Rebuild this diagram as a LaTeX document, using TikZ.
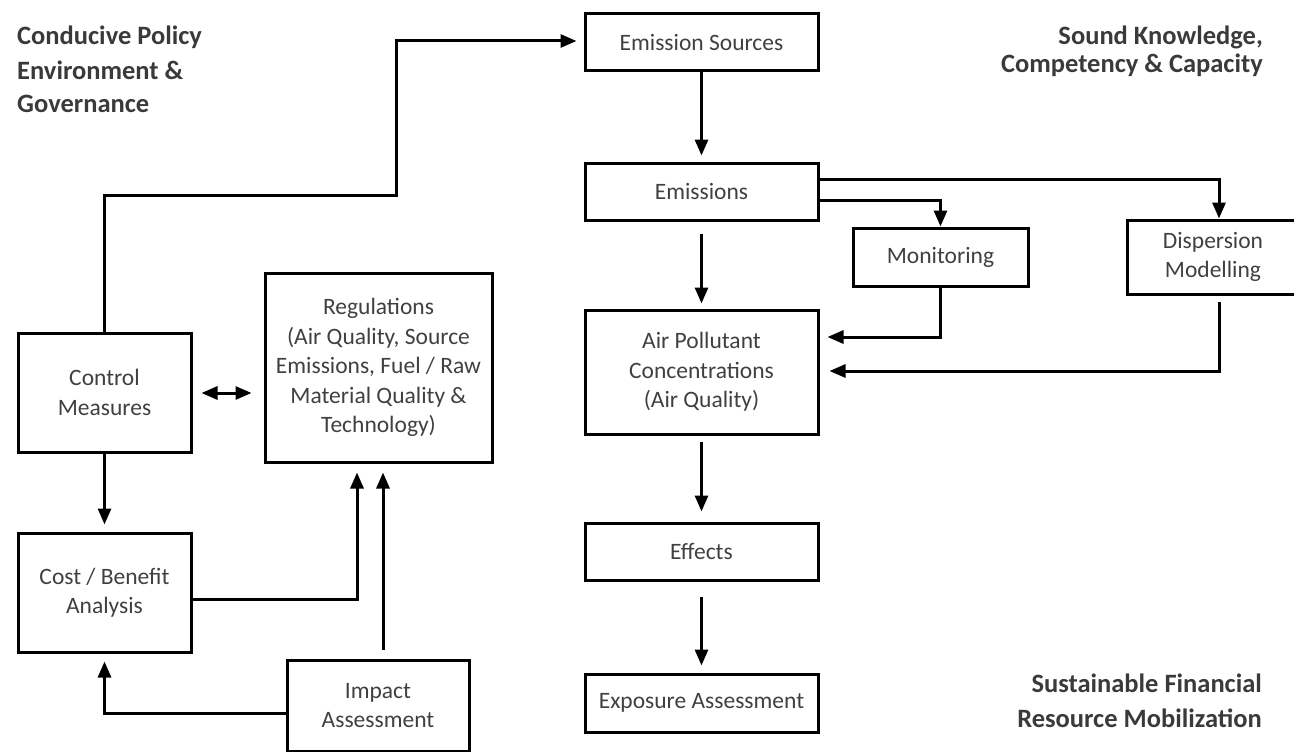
\documentclass[tikz,border=0pt]{standalone}
\usepackage{fontspec}
\setmainfont{Carlito}
\usetikzlibrary{arrows.meta,calc}
\definecolor{txt}{HTML}{404040}
\definecolor{headtxt}{HTML}{3A3A3A}
\begin{document}
\begin{tikzpicture}[x=1pt,y=-1pt,
  box/.style={draw=black,line width=3pt,text=txt,font=\fontsize{23.5}{29.5}\selectfont,align=center,inner sep=0pt},
  arr/.style={draw=black,line width=3pt,-{Triangle[length=16pt,width=13pt]}},
  dblarr/.style={draw=black,line width=3pt,{Triangle[length=16pt,width=13pt]}-{Triangle[length=16pt,width=13pt]}},
  head/.style={text=headtxt,font=\fontsize{26.5}{33}\selectfont\bfseries,inner sep=0pt}]
\clip (0,0) rectangle (1294,752);
\useasboundingbox (0,0) rectangle (1294,752);

% right column
\node[box,minimum width=233pt,minimum height=57pt] (src) at (701.5,42.5) {Emission Sources};
\node[box,minimum width=233pt,minimum height=57pt] (emis) at (701.5,191.5) {Emissions};
\node[box,minimum width=175pt,minimum height=58pt] (mon) at (940.5,257) {Monitoring};
\node[box,minimum width=172pt,minimum height=74pt] (disp) at (1213,257) {Dispersion\\Modelling};
\node[box,minimum width=233pt,minimum height=124pt] (air) at (701.5,372) {Air Pollutant\\Concentrations\\(Air Quality)};
\node[box,minimum width=233pt,minimum height=57pt] (eff) at (701.5,551.5) {Effects};
\node[box,minimum width=233pt,minimum height=58pt] (expo) at (701.5,703) {Exposure Assessment};

% left column
\node[box,minimum width=173pt,minimum height=119pt] (ctrl) at (104.5,392.5) {Control\\Measures};
\node[box,minimum width=227pt,minimum height=189pt] (reg) at (378.5,367.5) {Regulations\\(Air Quality, Source\\Emissions, Fuel / Raw\\Material Quality \&\\Technology)};
\node[box,minimum width=173pt,minimum height=119pt] (cost) at (104.5,592.5) {Cost / Benefit\\Analysis};
\node[box,minimum width=182pt,minimum height=91pt] (imp) at (378,705.5) {Impact\\Assessment};

% headings
\node[head,anchor=base west] (p1) at (17,45) {Conducive Policy};
\node[head,anchor=base west] (p2) at (17,80) {Environment \&};
\node[head,anchor=base west] (p3) at (17,113) {Governance};
\node[head,anchor=base east] (k1) at (1263,45) {Sound Knowledge,};
\node[head,anchor=base east] (k2) at (1263,73) {Competency \& Capacity};
\node[head,anchor=base east] (f1) at (1262,692) {Sustainable Financial};
\node[head,anchor=base east] (f2) at (1262,727) {Resource Mobilization};

% connectors
\draw[arr,shorten >=6pt] (src) -- (emis);
\draw[arr,shorten <=12pt,shorten >=5pt] (emis) -- (air);
\draw[arr,shorten <=6pt,shorten >=10pt] (air) -- (eff);
\draw[arr,shorten <=15pt,shorten >=7pt] (eff) -- (expo);
\draw[arr] ($(emis.east)+(0,-12.5)$) -| ($(disp.north)+(6,0)$);
\draw[arr] ($(emis.east)+(0,8.5)$) -| (mon.north);
\draw[arr] (mon.south) |- ($(air.east)+(8,-35)$);
\draw[arr] ($(disp.south)+(6,6)$) |- ($(air.east)+(10,-1)$);

\draw[dblarr,shorten <=9pt,shorten >=12pt] ($(ctrl.east)+(0,0.5)$) -- ($(reg.west |- ctrl.east)+(0,0.5)$);
\draw[arr,shorten >=7pt] (ctrl) -- (cost);
\draw[arr] ($(cost.east)+(0,6.5)$) -| ($(reg.south)+(-21.5,9)$);
\draw[arr] ($(imp.north)+(5,-9)$) -- ($(reg.south)+(4.5,9)$);
\draw[arr] ($(imp.west)+(0,7.5)$) -| ($(cost.south)+(0,8)$);
\draw[arr] (ctrl.north) -- ++(0,-136) -- ++(292,0) |- ($(src.west)+(-7,-1.5)$);
\end{tikzpicture}
\end{document}
